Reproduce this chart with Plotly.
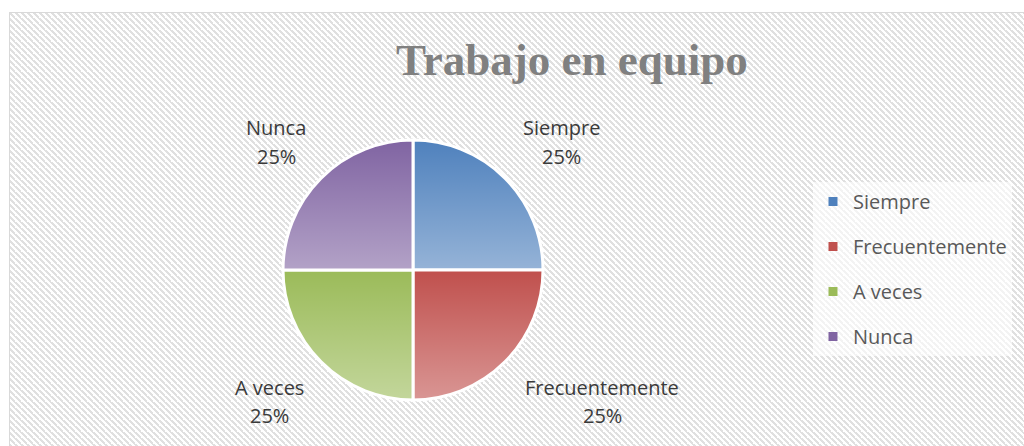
import base64
import plotly.graph_objects as go

# ---------------- data ----------------
categories = ["Siempre", "Frecuentemente", "A veces", "Nunca"]
values = [25, 25, 25, 25]
colors = ["#4f81bd", "#c0504d", "#9bbb59", "#8064a2"]
chart_title = "Trabajo en equipo"

W, H = 1024, 446
total = sum(values)
percents = [round(v / total * 100) for v in values]

# ---------------- background (hatched chart area + frame) ----------------
FX, FY = 9, 12
BW, BH = W - FX, H - FY
hatch_svg = f'''<svg xmlns="http://www.w3.org/2000/svg" width="{BW}" height="{BH}" viewBox="0 0 {BW} {BH}">
<defs><pattern id="h" width="6" height="6" patternUnits="userSpaceOnUse">
<path d="M-6,0 L0,6 M0,0 L6,6 M6,0 L12,6" stroke="#e0e0e0" stroke-width="2.4" fill="none" shape-rendering="crispEdges"/></pattern></defs>
<rect x="0" y="0" width="{BW}" height="{BH}" fill="#ffffff"/>
<rect x="0" y="0" width="{BW}" height="{BH}" fill="url(#h)"/>
<path d="M0.5,{BH} L0.5,0.5 L{BW},0.5" stroke="#d9d9d9" stroke-width="1" fill="none"/>
</svg>'''
hatch_uri = "data:image/svg+xml;base64," + base64.b64encode(hatch_svg.encode()).decode()

# ---------------- pie geometry ----------------
CX, CY, R = 413, 270, 130
dom_x = [(CX - R) / W, (CX + R) / W]
dom_y = [1 - (CY + R) / H, 1 - (CY - R) / H]

grad_svg = f'''<svg xmlns="http://www.w3.org/2000/svg" width="{2*R}" height="{2*R}" viewBox="0 0 {2*R} {2*R}">
<defs><linearGradient id="g" x1="0" y1="0" x2="0" y2="1">
<stop offset="0" stop-color="#ffffff" stop-opacity="0"/>
<stop offset="1" stop-color="#ffffff" stop-opacity="0.4"/></linearGradient>
<clipPath id="c"><circle cx="{R}" cy="{R}" r="{R}"/></clipPath></defs>
<g clip-path="url(#c)">
<rect x="0" y="0" width="{2*R}" height="{R}" fill="url(#g)"/>
<rect x="0" y="{R}" width="{2*R}" height="{R}" fill="url(#g)"/></g>
</svg>'''
grad_uri = "data:image/svg+xml;base64," + base64.b64encode(grad_svg.encode()).decode()

fig = go.Figure()
fig.add_trace(go.Pie(
    labels=categories, values=values, sort=False, direction="clockwise",
    rotation=0, domain=dict(x=dom_x, y=dom_y),
    marker=dict(colors=colors, line=dict(color="#ffffff", width=3)),
    textinfo="none", hoverinfo="label+percent", showlegend=False,
))

# legend entries
for cat, col in zip(categories, colors):
    fig.add_trace(go.Scatter(
        x=[None], y=[None], mode="markers", name=cat, legendgroup=cat,
        marker=dict(symbol="square", size=9, color=col), showlegend=True,
    ))

# data labels (outside, Excel style)
label_pos = {  # (x center px, y of label line px, y of percent line px)
    "Siempre": (561, 127, 156),
    "Frecuentemente": (602, 387, 415),
    "A veces": (269, 387, 415),
    "Nunca": (276, 127, 156),
}
annotations = []
lab_font = dict(family="Open Sans", size=20, color="#3a3a3a")
for cat, p in zip(categories, percents):
    x, y1, y2 = label_pos[cat]
    annotations.append(dict(text=cat, x=x / W, y=1 - y1 / H, xref="paper", yref="paper",
                            xanchor="center", yanchor="middle", showarrow=False, font=lab_font))
    annotations.append(dict(text=f"{p}%", x=x / W, y=1 - y2 / H, xref="paper", yref="paper",
                            xanchor="center", yanchor="middle", showarrow=False, font=lab_font))

annotations.append(dict(
    text=chart_title, x=572 / W, y=1 - 60 / H, xref="paper", yref="paper",
    xanchor="center", yanchor="middle", showarrow=False,
    font=dict(family="Liberation Serif", size=45, color="#808080", weight="bold"),
))

fig.update_layout(
    template="none",
    width=W, height=H,
    margin=dict(l=0, r=0, t=0, b=0, pad=0, autoexpand=False),
    paper_bgcolor="#ffffff", plot_bgcolor="rgba(0,0,0,0)",
    xaxis=dict(visible=False), yaxis=dict(visible=False),
    showlegend=True,
    legend=dict(
        x=813 / W, y=1 - 182 / H, xanchor="left", yanchor="top",
        xref="paper", yref="paper",
        bgcolor="rgba(255,255,255,0.6)", borderwidth=0,
        font=dict(family="Open Sans", size=20, color="#595959"),
        traceorder="grouped", tracegroupgap=16, itemclick=False,
    ),
    images=[
        dict(source=hatch_uri, xref="paper", yref="paper", x=FX / W, y=1 - FY / H,
             sizex=BW / W, sizey=BH / H, xanchor="left", yanchor="top",
             sizing="stretch", layer="below"),
        dict(source=grad_uri, xref="paper", yref="paper", x=(CX - R) / W, y=1 - (CY - R) / H,
             sizex=2 * R / W, sizey=2 * R / H, xanchor="left", yanchor="top",
             sizing="stretch", layer="above"),
    ],
    annotations=annotations,
)

fig.write_html("out.html", config={"displayModeBar": False},
               post_script="document.body.style.margin='0';document.body.style.overflow='hidden';")
